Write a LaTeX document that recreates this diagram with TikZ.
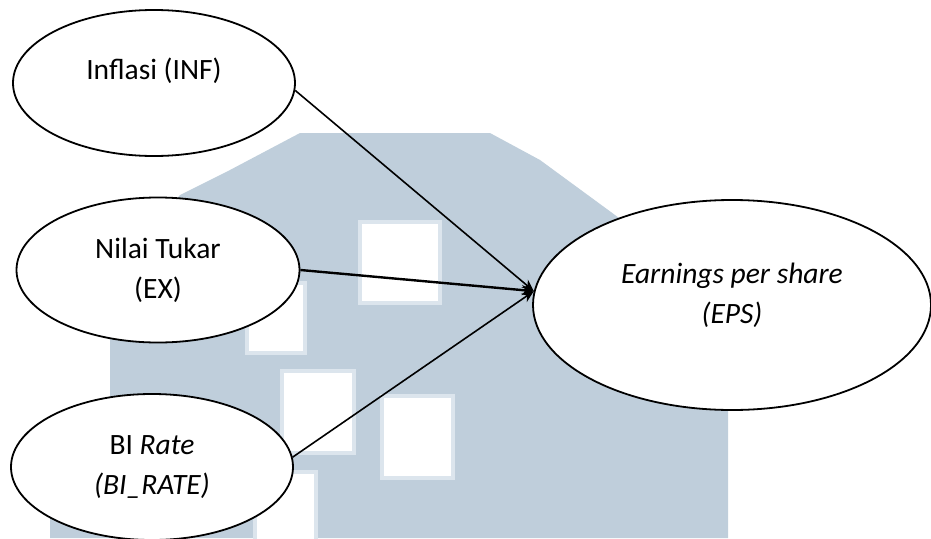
\documentclass[tikz,border=0pt]{standalone}
\usepackage{fontspec}
\setmainfont{Carlito}
\usepackage{tikz}
\usetikzlibrary{shapes.geometric}
\usetikzlibrary{arrows.meta}
\definecolor{wm-blue}{HTML}{BFCEDB}
\definecolor{wm-light}{HTML}{DCE5ED}

\tikzset{
  var/.style={ellipse, draw=black, line width=1.8pt, fill=white, inner sep=0pt,
    minimum width=282pt, minimum height=146pt, align=center,
    font=\fontsize{29.5}{40}\selectfont},
  link/.style={-{Stealth[length=12pt, width=10pt]}, line width=1.6pt, black},
  hole/.style={fill=white, draw=wm-light, line width=4pt}
}

\begin{document}
\begin{tikzpicture}[x=1pt, y=-1pt]

    \useasboundingbox (0,0) rectangle (931,538);

    % Watermark di latar belakang
    \fill[wm-blue] (50,538) -- (50,485) -- (110,440) -- (110,340) -- (150,230) -- (180,195)
        -- (230,170) -- (300,133) -- (490,133) -- (540,160) -- (615,215) -- (728,300)
        -- (728,538) -- cycle;
    \filldraw[hole] (360,222) rectangle (440,303);
    \filldraw[hole] (247,283) rectangle (305,353);
    \filldraw[hole] (282,371) rectangle (354,453);
    \filldraw[hole] (382,396) rectangle (453,478);
    \filldraw[hole] (255,472) rectangle (316,545);

    % Variabel independen
    \node[var, text depth=28pt] (inf) at (154,83) {Inflasi (INF)};
    \node[var, minimum width=283pt, minimum height=145pt] (ex) at (158,270) {Nilai Tukar\\(EX)};
    \node[var] (bi) at (152,467) {BI \textit{Rate}\\\textit{(BI\_RATE)}};

    % Variabel dependen
    \node[var, minimum width=398pt, minimum height=210pt, text depth=24pt] (eps) at (732,305)
        {\textit{Earnings per share}\\\textit{(EPS)}};

    % Pengaruh ke EPS
    \coordinate (tip) at (eps.176);
    \draw[link] (inf.-3) -- (tip);
    \draw[link, line width=2.4pt] (ex.east) -- (tip);
    \draw[link] (bi.4) -- (tip);

\end{tikzpicture}
\end{document}
